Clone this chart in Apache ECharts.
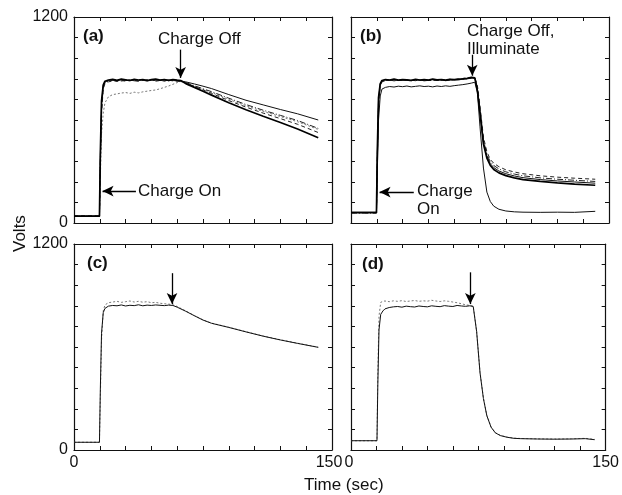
<!DOCTYPE html>
<html>
<head>
<meta charset="utf-8">
<title>Charge decay</title>
<script src="https://cdn.jsdelivr.net/npm/echarts@6/dist/echarts.min.js"></script>
<style>
  html, body { margin: 0; padding: 0; background: #fff; }
  #chart { width: 622px; height: 495px; }
</style>
</head>
<body>
<div id="chart"></div>
<script>
// time (sec) for each panel
const tA = [0, 14.8, 15.3, 16, 17, 18, 20, 22.5, 25, 27.5, 30, 32.5, 35, 37.5, 40, 42.5, 45, 47.5, 50, 52.5, 55, 57.5, 60, 62, 65, 70, 75, 80, 90, 100, 110, 120, 130, 142];
const tB = [0, 14.8, 15.3, 16, 17, 18, 20, 22.5, 25, 27.5, 30, 32.5, 35, 37.5, 40, 42.5, 45, 47.5, 50, 52.5, 55, 57.5, 60, 62.5, 65, 67.5, 70, 72, 73.5, 75, 77, 79, 81, 83, 86, 90, 95, 100, 110, 120, 130, 142];
const tC = [0, 14.8, 15.3, 16, 17, 18, 20, 22.5, 25, 27.5, 30, 32.5, 35, 37.5, 40, 42.5, 45, 47.5, 50, 52.5, 55, 57.5, 60, 65, 70, 75, 80, 90, 100, 110, 120, 130, 142];
const tD = [0, 15.3, 15.8, 16.5, 17.5, 18.8, 20, 22.5, 25, 27.5, 30, 32.5, 35, 37.5, 40, 42.5, 45, 47.5, 50, 52.5, 55, 57.5, 60, 62.5, 65, 67.5, 70, 72, 74, 76, 78, 80, 82.5, 85, 88, 92, 96, 100, 110, 120, 130, 138, 143.5];

// (a) volts
const a1 = [40, 40, 380, 690, 800, 822, 830, 834, 828, 836, 831, 829, 835, 830, 833, 827, 832, 836, 830, 834, 829, 833, 830, 828, 822, 810, 797, 783, 748, 715, 688, 661, 636, 600];
const a2 = [38, 38, 350, 660, 790, 818, 826, 831, 835, 827, 832, 836, 828, 834, 830, 835, 829, 831, 836, 828, 833, 830, 827, 826, 818, 800, 782, 765, 727, 690, 657, 627, 597, 551];
const a3 = [42, 42, 330, 640, 780, 812, 822, 828, 825, 831, 826, 833, 829, 825, 831, 828, 834, 826, 830, 827, 832, 828, 826, 825, 815, 795, 775, 755, 713, 675, 640, 608, 575, 527];
const a4 = [40, 40, 400, 710, 805, 826, 833, 837, 831, 838, 834, 830, 837, 833, 836, 830, 835, 838, 832, 836, 831, 835, 832, 830, 812, 790, 767, 745, 700, 660, 622, 585, 548, 497];
const a5 = [40, 40, 250, 520, 640, 700, 735, 748, 752, 757, 760, 755, 762, 758, 764, 768, 772, 775, 782, 790, 798, 808, 818, 824, 816, 797, 779, 760, 720, 683, 650, 620, 590, 545];

// (b) volts
const b1 = [60, 60, 380, 700, 805, 825, 832, 830, 835, 829, 833, 831, 828, 834, 830, 836, 832, 829, 835, 831, 833, 837, 834, 839, 842, 845, 848, 846, 800, 680, 500, 415, 370, 348, 328, 310, 297, 287, 275, 267, 261, 255];
const b2 = [58, 58, 360, 680, 800, 822, 829, 833, 828, 831, 835, 830, 832, 829, 834, 828, 831, 835, 830, 833, 829, 832, 836, 833, 838, 840, 843, 842, 790, 665, 485, 400, 357, 335, 315, 298, 285, 275, 263, 255, 249, 242];
const b3 = [62, 62, 400, 720, 810, 828, 834, 831, 836, 830, 834, 832, 829, 835, 831, 833, 830, 836, 832, 834, 830, 835, 833, 836, 838, 841, 845, 843, 780, 650, 470, 388, 345, 323, 303, 287, 274, 264, 253, 245, 239, 232];
const b4 = [60, 60, 420, 730, 812, 830, 836, 833, 838, 832, 835, 834, 831, 837, 833, 835, 832, 838, 834, 836, 832, 837, 835, 838, 840, 843, 848, 845, 770, 640, 460, 378, 335, 312, 292, 276, 263, 253, 242, 234, 227, 220];
const b5 = [62, 62, 300, 600, 740, 780, 790, 795, 792, 797, 794, 798, 793, 796, 799, 795, 797, 793, 798, 795, 799, 796, 800, 803, 806, 810, 815, 820, 760, 560, 320, 180, 125, 98, 80, 70, 65, 63, 62, 63, 62, 68];

// (c) volts
const c1 = [45, 45, 350, 680, 800, 825, 838, 842, 840, 845, 839, 843, 841, 846, 840, 844, 842, 845, 843, 841, 844, 842, 832, 808, 782, 757, 738, 714, 688, 663, 641, 621, 598];
const c2 = [45, 45, 300, 640, 810, 845, 858, 862, 866, 860, 864, 868, 862, 866, 861, 864, 858, 860, 855, 852, 850, 846, 836, 810, 783, 758, 739, 715, 689, 664, 642, 622, 599];

// (d) volts
const d1 = [54, 54, 380, 700, 790, 810, 822, 830, 834, 836, 832, 838, 835, 833, 839, 836, 834, 840, 837, 835, 841, 838, 836, 842, 839, 837, 840, 836, 690, 450, 300, 200, 133, 100, 84, 74, 68, 66, 64, 63, 64, 66, 60];
const d2 = [54, 54, 450, 780, 860, 866, 868, 864, 869, 866, 870, 865, 868, 871, 866, 869, 867, 872, 868, 865, 869, 866, 862, 858, 852, 846, 842, 838, 692, 452, 302, 202, 134, 101, 85, 75, 69, 67, 65, 64, 65, 68, 62];

// arrows in data units: [panel, from, to]
const arrows = [
  [0, [62, 1010], [62, 845]],
  [0, [36, 186], [16.6, 186]],
  [1, [70.5, 980], [70.5, 858]],
  [1, [36.5, 180], [16.6, 180]],
  [2, [57, 1030], [57, 850]],
  [3, [70.3, 1035], [70.3, 850]]
];

const FONT = '"Liberation Sans", Arial, Helvetica, sans-serif';
const INK = '#111';

const grids = [
  { left: 74, top: 17, width: 258, height: 206 },
  { left: 351, top: 17, width: 258, height: 206 },
  { left: 74, top: 244, width: 258, height: 206 },
  { left: 351, top: 244, width: 258, height: 206 }
];

const xAxes = [];
const yAxes = [];
grids.forEach((g, i) => {
  const showX = i >= 2;
  const showY = i % 2 === 0;
  ['bottom', 'top'].forEach(pos => {
    xAxes.push({
      type: 'value', gridIndex: i, position: pos, min: 0, max: 150, interval: 15,
      axisLine: { show: true, onZero: false, lineStyle: { color: INK, width: 1.2 } },
      axisTick: { show: true, inside: true, length: 4, lineStyle: { color: INK } },
      splitLine: { show: false },
      axisLabel: {
        show: showX && pos === 'bottom', margin: 5, fontSize: 16, color: INK, fontFamily: FONT,
        formatter: v => {
          if (v === 0) return i === 3 ? '{l|0}' : '0';
          if (v === 150) return i === 2 ? '{r|150}' : '150';
          return '';
        },
        rich: {
          l: { fontSize: 16, fontFamily: FONT, color: INK, padding: [0, 4, 0, 0] },
          r: { fontSize: 16, fontFamily: FONT, color: INK, padding: [0, 6, 0, 0] }
        }
      }
    });
  });
  ['left', 'right'].forEach(pos => {
    yAxes.push({
      type: 'value', gridIndex: i, position: pos, min: 0, max: 1200, interval: 120,
      axisLine: { show: true, onZero: false, lineStyle: { color: INK, width: 1.2 } },
      axisTick: { show: true, inside: true, length: 4, lineStyle: { color: INK } },
      splitLine: { show: false },
      axisLabel: {
        show: showY && pos === 'left', margin: 6, fontSize: 16, color: INK, fontFamily: FONT,
        formatter: v => (v === 0 || v === 1200 ? String(v) : '')
      }
    });
  });
});

const styles = {
  heavy: { color: '#000', width: 1.7, type: 'solid' },
  thin: { color: '#111', width: 1, type: 'solid' },
  dashdot: { color: '#222', width: 1, type: [6, 2, 1, 2] },
  dashed: { color: '#222', width: 1, type: [4, 3] },
  dotted: { color: '#777', width: 1, type: [2, 2] }
};

function zip(t, v) {
  return t.map((x, k) => [x, v[k]]);
}

function line(panel, t, v, style) {
  return {
    type: 'line', xAxisIndex: panel * 2, yAxisIndex: panel * 2,
    data: zip(t, v), showSymbol: false, symbol: 'none',
    lineStyle: styles[style], silent: true, z: style === 'heavy' ? 3 : 2
  };
}

const series = [
  line(0, tA, a5, 'dotted'),
  line(0, tA, a1, 'thin'),
  line(0, tA, a2, 'dashdot'),
  line(0, tA, a3, 'dashed'),
  line(0, tA, a4, 'heavy'),
  line(1, tB, b5, 'thin'),
  line(1, tB, b1, 'dashed'),
  line(1, tB, b2, 'dashdot'),
  line(1, tB, b3, 'thin'),
  line(1, tB, b4, 'heavy'),
  line(2, tC, c2, 'dotted'),
  line(2, tC, c1, 'thin'),
  line(3, tD, d2, 'dotted'),
  line(3, tD, d1, 'thin')
];

// arrows drawn as markLines on an empty series per panel
[0, 1, 2, 3].forEach(p => {
  series.push({
    type: 'line', xAxisIndex: p * 2, yAxisIndex: p * 2, data: [], silent: true,
    markLine: {
      silent: true, animation: false,
      symbol: ['none', 'arrow'], symbolSize: [8, 11],
      label: { show: false },
      lineStyle: { color: '#000', width: 1.3, type: 'solid' },
      data: arrows.filter(a => a[0] === p).map(a => [{ coord: a[1] }, { coord: a[2] }])
    }
  });
});

function txt(x, y, s, opts) {
  return {
    type: 'text', left: x, top: y - 9, silent: true,
    style: Object.assign({ text: s, fontSize: 17, fontFamily: FONT, fill: INK }, opts || {})
  };
}

const graphics = [
  txt(83, 37, '(a)', { fontWeight: 'bold' }),
  txt(158, 40, 'Charge Off'),
  txt(138, 192, 'Charge On'),
  txt(360, 37, '(b)', { fontWeight: 'bold' }),
  txt(467, 32, 'Charge Off,'),
  txt(467, 50, 'Illuminate'),
  txt(417, 192, 'Charge'),
  txt(417, 210, 'On'),
  txt(87, 264, '(c)', { fontWeight: 'bold' }),
  txt(362, 265, '(d)', { fontWeight: 'bold' }),
  txt(304, 486, 'Time (sec)'),
  {
    type: 'text', x: 12, y: 252, rotation: Math.PI / 2, silent: true,
    style: { text: 'Volts', fontSize: 17, fontFamily: FONT, fill: INK }
  }
];

const chart = echarts.init(document.getElementById('chart'), null, { renderer: 'canvas' });
chart.setOption({
  animation: false,
  backgroundColor: '#fff',
  grid: grids,
  xAxis: xAxes,
  yAxis: yAxes,
  series: series,
  graphic: graphics
});
</script>
</body>
</html>
